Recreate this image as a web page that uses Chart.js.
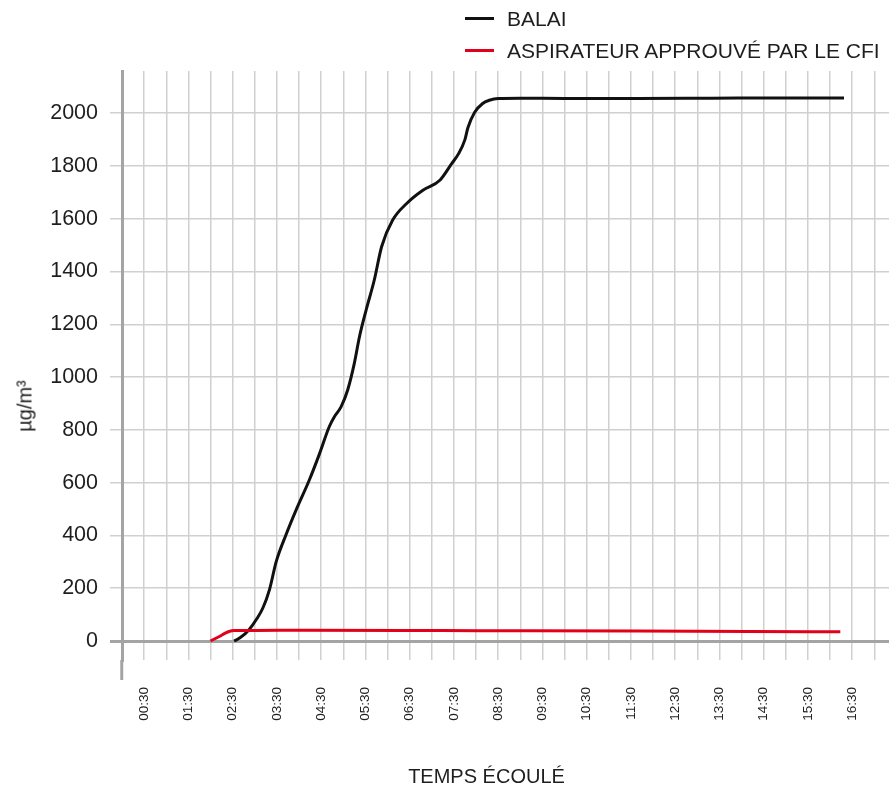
<!DOCTYPE html>
<html lang="fr">
  <head>
    <meta charset="utf-8" />
    <title>Balai vs aspirateur</title>
    <script src="https://cdn.jsdelivr.net/npm/chart.js@4.4.0/dist/chart.umd.min.js"></script>
    <style>
      body { margin: 0; background: #fff; font-family: "Liberation Sans", Arial, sans-serif; color: #1e1e1e; }
      .wrap { position: relative; width: 893px; height: 791px; }
      #legend { position: absolute; left: 465px; top: 3px; }
      .leg-row { height: 32px; line-height: 32px; font-size: 21px; white-space: nowrap; }
      .leg-line { display: inline-block; width: 29px; height: 3px; vertical-align: middle; margin-right: 13px; position: relative; top: -2px; }
      .x-title { position: absolute; left: 0; width: 973px; top: 765px; text-align: center; font-size: 20px; }
      .y-title { position: absolute; left: 25px; top: 406px; font-size: 20px; transform: translate(-50%, -50%) rotate(-90deg); white-space: nowrap; }
    </style>
  </head>
  <body>
    <div class="wrap">
      <canvas id="myChart" width="893" height="791"></canvas>
      <div id="legend"></div>
      <div class="y-title">µg/m³</div>
      <div class="x-title">TEMPS ÉCOULÉ</div>
    </div>
    <script>
      // temps en minutes, valeurs en µg/m³
      var balaiMinutes = [152, 160, 172, 183, 191, 200, 209, 222, 236, 254, 268, 281, 288, 297, 306, 315, 322, 331, 342, 352, 367, 386, 408, 431, 447, 456, 465, 469, 478, 489, 498, 510, 540, 600, 700, 800, 900, 979];
      var balaiValues = [0, 12, 42, 85, 125, 195, 300, 400, 496, 610, 711, 812, 850, 887, 951, 1052, 1153, 1254, 1367, 1494, 1595, 1658, 1708, 1746, 1809, 1845, 1900, 1945, 2003, 2037, 2049, 2056, 2057, 2056, 2056, 2057, 2058, 2058];

      var aspiMinutes = [120, 132, 140, 146, 152, 180, 250, 400, 484, 550, 700, 850, 974];
      var aspiValues = [0, 17, 30, 37, 39.5, 40, 41, 40, 39, 39, 38, 36, 35];

      var timeLabels = ["00:30", "01:30", "02:30", "03:30", "04:30", "05:30", "06:30", "07:30", "08:30",
        "09:30", "10:30", "11:30", "12:30", "13:30", "14:30", "15:30", "16:30"];
      var yLabels = [0, 200, 400, 600, 800, 1000, 1200, 1400, 1600, 1800, 2000];

      var seriesNames = ["BALAI", "ASPIRATEUR APPROUVÉ PAR LE CFI"];
      var seriesColors = ["#111111", "#e2001a"];

      function pairs(xs, ys) {
        return xs.map(function (x, i) { return { x: x, y: ys[i] }; });
      }

      var gridGray = "#d0d0d0";
      var axisGray = "#a4a4a4";

      const chartdata = {
        datasets: [
          {
            label: seriesNames[0],
            data: pairs(balaiMinutes, balaiValues),
            borderColor: seriesColors[0],
            borderWidth: 3,
            pointRadius: 0,
            cubicInterpolationMode: "monotone",
            order: 1,
          },
          {
            label: seriesNames[1],
            data: pairs(aspiMinutes, aspiValues),
            borderColor: seriesColors[1],
            borderWidth: 3,
            pointRadius: 0,
            cubicInterpolationMode: "monotone",
            order: 0,
          },
        ],
      };

      const config = {
        type: "line",
        data: chartdata,
        options: {
          responsive: false,
          animation: false,
          layout: { padding: { top: 71, right: 4, left: 0, bottom: 0 } },
          plugins: { legend: { display: false }, tooltip: { enabled: false } },
          scales: {
            x: {
              type: "linear",
              min: 0,
              max: 1040,
              afterFit: function (scale) {
                scale.height = 131;
                scale.paddingLeft = 0;
                scale.paddingRight = 0;
              },
              border: { display: false },
              grid: {
                color: function (ctx) { return ctx.tick && ctx.tick.value === 0 ? "rgba(0,0,0,0)" : gridGray; },
                lineWidth: 1.5,
                drawTicks: true,
                tickLength: 20,
                tickColor: function (ctx) { return ctx.tick && ctx.tick.value === 0 ? axisGray : "rgba(0,0,0,0)"; },
                tickWidth: 3,
              },
              ticks: {
                stepSize: 30,
                includeBounds: false,
                autoSkip: false,
                maxRotation: 90,
                minRotation: 90,
                padding: 7,
                color: "#1e1e1e",
                font: { family: "'Liberation Sans', Arial, sans-serif", size: 13.5 },
                callback: function (v) {
                  if ((v - 30) % 60 === 0) return timeLabels[(v - 30) / 60];
                  return "";
                },
              },
            },
            y: {
              min: -72,
              max: 2160,
              afterFit: function (scale) { scale.width = 122; },
              border: { display: true, color: axisGray, width: 3 },
              grid: {
                color: function (ctx) { return ctx.tick && ctx.tick.value === 0 ? axisGray : gridGray; },
                lineWidth: function (ctx) { return ctx.tick && ctx.tick.value === 0 ? 3 : 1.5; },
                tickLength: 12,
              },
              ticks: {
                stepSize: 100,
                includeBounds: false,
                padding: 12,
                color: "#1e1e1e",
                font: { family: "'Liberation Sans', Arial, sans-serif", size: 21.5 },
                callback: function (v) {
                  return yLabels.indexOf(v) >= 0 ? String(v) : "";
                },
              },
            },
          },
        },
      };

      var myChart = new Chart(document.getElementById("myChart"), config);

      // legende empilée en haut à droite
      var leg = document.getElementById("legend");
      chartdata.datasets.forEach(function (ds) {
        var row = document.createElement("div");
        row.className = "leg-row";
        row.innerHTML = '<span class="leg-line" style="background:' + ds.borderColor + '"></span>' + ds.label;
        leg.appendChild(row);
      });
    </script>
  </body>
</html>
